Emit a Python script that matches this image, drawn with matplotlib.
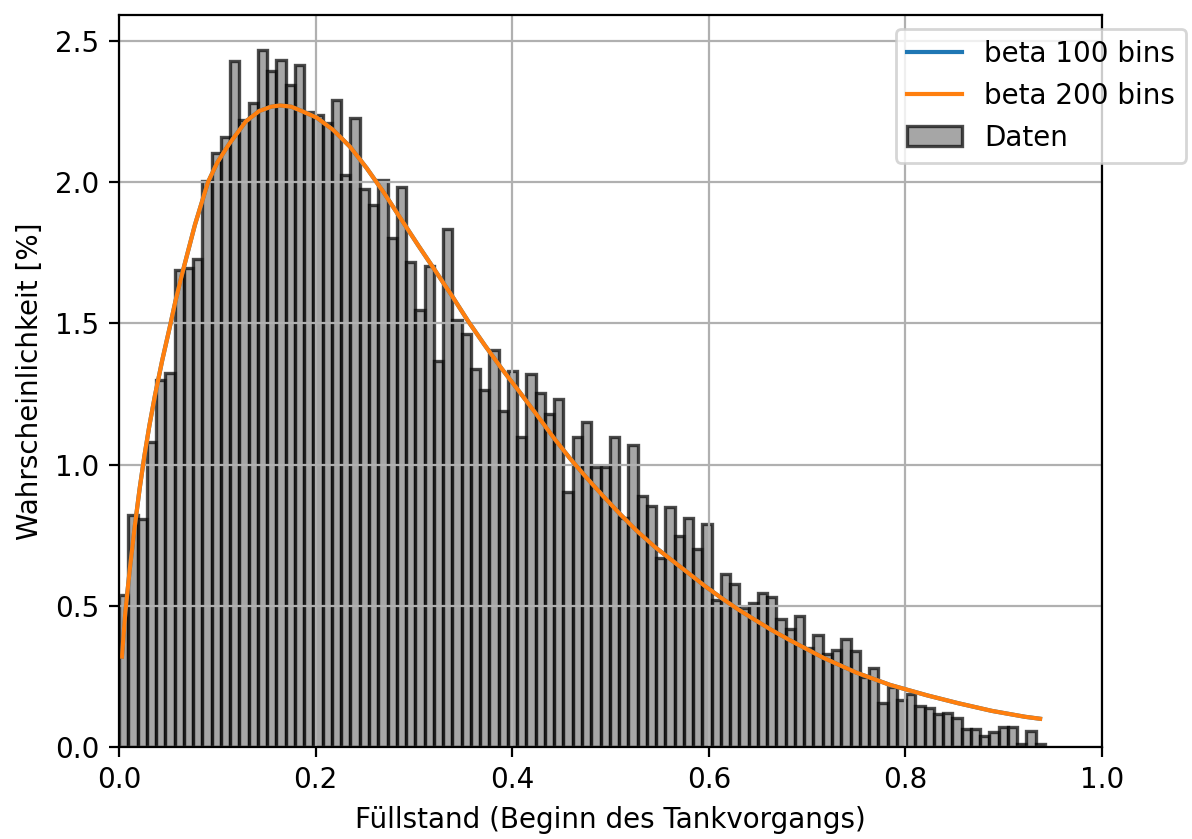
import numpy as np
import matplotlib
matplotlib.use("Agg")
import matplotlib.pyplot as plt

# Histogram of fill levels at the start of refuelling: 100 equal bins
fill_lo, fill_hi = 0.0, 0.942
share_pct = [
    0.539, 0.820, 0.807, 1.079, 1.300, 1.324, 1.689, 1.696, 1.729, 2.003,
    2.102, 2.161, 2.431, 2.219, 2.280, 2.469, 2.395, 2.433, 2.344, 2.415,
    2.250, 2.240, 2.210, 2.290, 2.025, 2.227, 1.975, 1.921, 2.009, 1.801,
    1.983, 1.716, 1.547, 1.703, 1.368, 1.835, 1.513, 1.464, 1.338, 1.263,
    1.407, 1.191, 1.331, 1.098, 1.322, 1.253, 1.180, 1.233, 0.902, 1.098,
    1.151, 0.992, 0.992, 1.098, 0.811, 1.069, 0.888, 0.852, 0.671, 0.850,
    0.746, 0.811, 0.702, 0.790, 0.521, 0.613, 0.577, 0.492, 0.509, 0.547,
    0.533, 0.453, 0.417, 0.463, 0.352, 0.398, 0.331, 0.345, 0.381, 0.340,
    0.248, 0.280, 0.156, 0.213, 0.168, 0.187, 0.145, 0.139, 0.116, 0.122,
    0.104, 0.064, 0.062, 0.038, 0.054, 0.072, 0.072, 0.009, 0.057, 0.009,
]

# Fitted beta density (in % per bin)
fit_x = [
    0.003, 0.0065, 0.011, 0.016, 0.021, 0.0258, 0.031, 0.0366, 0.044, 0.0512,
    0.0575, 0.0638, 0.0773, 0.0905, 0.100, 0.1119, 0.1289, 0.1424, 0.155, 0.164,
    0.175, 0.1841, 0.2011, 0.218, 0.235, 0.252, 0.2695, 0.2876, 0.3045, 0.3215,
    0.3385, 0.3554, 0.3723, 0.3893, 0.408, 0.4249, 0.4418, 0.4588, 0.4758, 0.4927,
    0.5097, 0.5266, 0.5453, 0.5622, 0.5792, 0.5961, 0.6131, 0.630, 0.647, 0.664,
    0.6826, 0.7165, 0.7504, 0.7843, 0.822, 0.8538, 0.8878, 0.9217, 0.937,
]
fit_y = [
    0.32, 0.48, 0.63, 0.78, 0.915, 1.03, 1.14, 1.245, 1.37, 1.48,
    1.58, 1.67, 1.85, 2.00, 2.07, 2.135, 2.215, 2.252, 2.268, 2.272,
    2.268, 2.255, 2.229, 2.185, 2.126, 2.050, 1.963, 1.866, 1.776, 1.688,
    1.599, 1.507, 1.422, 1.340, 1.255, 1.177, 1.097, 1.022, 0.953, 0.888,
    0.825, 0.766, 0.708, 0.662, 0.616, 0.570, 0.527, 0.487, 0.450, 0.414,
    0.378, 0.316, 0.263, 0.220, 0.183, 0.155, 0.128, 0.107, 0.100,
]

edges = np.linspace(fill_lo, fill_hi, len(share_pct) + 1)
centers = 0.5 * (edges[:-1] + edges[1:])

fig = plt.figure(figsize=(5.96, 4.195), dpi=200)
ax = fig.add_axes([119 / 1192, 92 / 839, 983 / 1192, 732 / 839])

_, _, bars = ax.hist(centers, bins=edges, weights=share_pct, color="grey",
                     alpha=0.7, edgecolor="black", linewidth=1.2)
line100, = ax.plot(fit_x, fit_y, color="C0")
line200, = ax.plot(fit_x, fit_y, color="C1")

ax.set_xlim(0, 1)
ax.set_ylim(0, max(share_pct) * 1.05)
ax.grid(True)
ax.set_xlabel("Füllstand (Beginn des Tankvorgangs)")
ax.set_ylabel("Wahrscheinlichkeit [%]")
ax.legend([line100, line200, bars[0]],
          ["beta 100 bins", "beta 200 bins", "Daten"],
          loc="upper right", bbox_to_anchor=(1.1, 1.0))

fig.savefig("out.png", dpi=200)
